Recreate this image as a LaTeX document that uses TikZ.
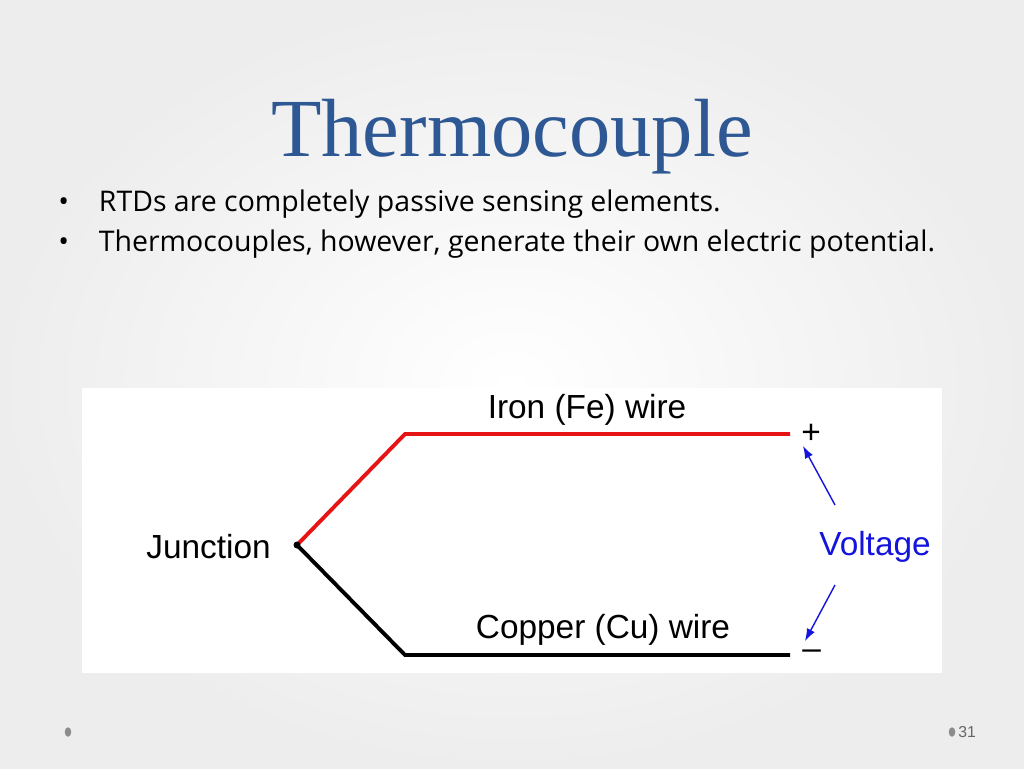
\documentclass[tikz,border=0pt]{standalone}
\usepackage{fontspec}
\setmainfont{Open Sans}
\newfontfamily\titlefont{Liberation Serif}
\newfontfamily\figfont{Liberation Sans}
\usetikzlibrary{arrows.meta,shapes.geometric}
\definecolor{titleblue}{RGB}{46,88,148}
\definecolor{voltblue}{RGB}{20,20,220}
\definecolor{wirered}{RGB}{230,20,20}

\begin{document}
\begin{tikzpicture}[x=0.02cm,y=-0.02cm]
   \tikzstyle{wire}=[line width=2.2pt, line join=miter]
   \tikzstyle{fig text}=[font=\figfont\fontsize{19}{22}\selectfont, inner sep=0pt]
   \tikzstyle{bullet}=[anchor=west, font=\fontsize{16.2}{19}\selectfont, inner sep=0pt]
   \tikzstyle{volt arrow}=[draw=voltblue, line width=0.8pt, -{Latex[length=7pt,width=5pt]}]
   \tikzstyle{page dot}=[fill=gray!90, ellipse, minimum width=0.13cm, minimum height=0.19cm, inner sep=0pt]

\useasboundingbox (0,0) rectangle (1024,768);
\shade[inner color=white, outer color=gray!14] (0,0) rectangle (1024,768);

% title and bullets
\node[font=\titlefont\fontsize{47}{56}\selectfont, text=titleblue] (title) at (512,137) {Thermocouple};
\node[bullet] (b1) at (58,204) {\textbullet\hspace{1.05em}RTDs are completely passive sensing elements.};
\node[bullet] (b2) at (58,244) {\textbullet\hspace{1.05em}Thermocouples, however, generate their own electric potential.};

% figure
\fill[white] (82,388) rectangle (942,673);
\coordinate (junc) at (297,545);
\coordinate (fe1) at (405,434);
\coordinate (cu1) at (405,655);
\coordinate (fe2) at (790,434);
\coordinate (cu2) at (790,655);
\node[fig text, anchor=west] (plus) at (801,434) {+};
\node[fig text, anchor=west] (minus) at (802,655) {\textendash};
\draw[wire, wirered] (junc) -- (fe1) -- (fe2);
\draw[wire, black] (junc) -- (cu1) -- (cu2);
\fill (junc) circle (3.5);
\node[fig text, anchor=east] (jlabel) at (271,547) {Junction};
\node[fig text] (felabel) at (587,410) {Iron (Fe) wire};
\node[fig text] (culabel) at (603,630) {Copper (Cu) wire};
\node[fig text, text=voltblue] (volt) at (875,547) {Voltage};
\coordinate (va) at (835,505);
\coordinate (vb) at (835,585);
\coordinate (pa) at (803,446);
\coordinate (pb) at (805,641);
\draw[volt arrow] (va) -- (pa);
\draw[volt arrow] (vb) -- (pb);

% page number
\node[page dot] (d1) at (68,732) {};
\node[page dot] (d2) at (952,732) {};
\node[anchor=west, inner sep=0pt, text=gray!80!black, font=\figfont\fontsize{9}{10}\selectfont] (num) at (958,732) {31};
\end{tikzpicture}
\end{document}
